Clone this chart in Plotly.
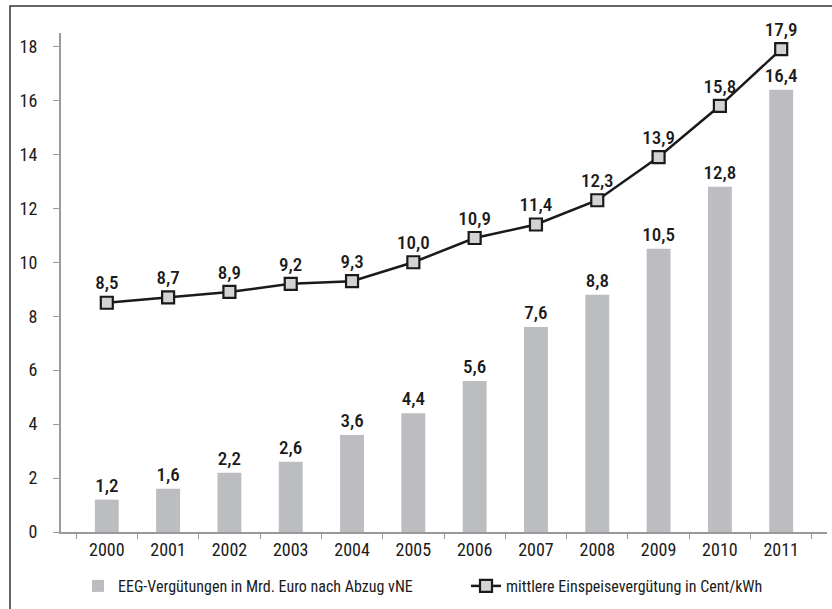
import plotly.graph_objects as go

years = ["2000", "2001", "2002", "2003", "2004", "2005",
         "2006", "2007", "2008", "2009", "2010", "2011"]
eeg_mrd_euro = [1.2, 1.6, 2.2, 2.6, 3.6, 4.4, 5.6, 7.6, 8.8, 10.5, 12.8, 16.4]
einspeise_cent = [8.5, 8.7, 8.9, 9.2, 9.3, 10.0, 10.9, 11.4, 12.3, 13.9, 15.8, 17.9]

W, H = 832, 609
L, R, T, B = 61, 5, 33, 77
pw, ph = W - L - R, H - T - B
FONT = "Roboto Condensed, Liberation Sans Narrow, sans-serif"


def px_x(x):
    # Pixel -> paper-Koordinate (x)
    return (x - L) / pw


def px_y(y):
    return (H - B - y) / ph


fig = go.Figure()

fig.add_trace(go.Bar(
    x=years, y=eeg_mrd_euro,
    name="EEG-Vergütungen in Mrd. Euro nach Abzug vNE",
    marker=dict(color="#bcbdc0", line_width=0),
    width=0.39,
    texttemplate="%{y:.1f}", textposition="outside", constraintext="none",
    textfont=dict(size=19, color="#1a1a1a", weight=500),
    cliponaxis=False,
    legend="legend",
))

fig.add_trace(go.Scatter(
    x=years, y=einspeise_cent,
    name="mittlere Einspeisevergütung in Cent/kWh",
    mode="lines+markers+text",
    line=dict(color="#1a1a1a", width=2.5),
    marker=dict(symbol="square", size=12, color="#d2d3d5",
                line=dict(color="#1a1a1a", width=2.2)),
    texttemplate="%{y:.1f}", textposition="top center",
    textfont=dict(size=19, color="#1a1a1a", weight=500),
    cliponaxis=False,
    legend="legend2",
))

# Rahmen (links und oben sichtbar, rechts/unten ausserhalb des Bildes)
fig.add_shape(
    type="rect", xref="paper", yref="paper",
    x0=px_x(10), x1=px_x(W + 20), y0=px_y(H + 20), y1=px_y(6),
    line=dict(color="#333", width=1.5), layer="below",
)

fig.update_xaxes(
    type="category", showline=True, linecolor="#9a9a9a", linewidth=2,
    ticks="outside", tickson="boundaries", ticklen=5, tickcolor="#9a9a9a",
    tickfont=dict(size=18, color="#1a1a1a"), showgrid=False,
)
fig.update_yaxes(
    range=[0, 18.5], dtick=2, showline=True, linecolor="#9a9a9a", linewidth=2,
    ticks="outside", ticklen=6, tickcolor="#9a9a9a", ticklabelstandoff=12,
    tickfont=dict(size=18, color="#1a1a1a"), showgrid=False, zeroline=False,
)

fig.update_layout(
    width=W, height=H,
    margin=dict(l=L, r=R, t=T, b=B),
    font=dict(family=FONT, color="#1a1a1a"),
    separators=",.",
    plot_bgcolor="white", paper_bgcolor="white",
    showlegend=True,
    legend=dict(x=px_x(78), xanchor="left", y=px_y(586), yanchor="middle",
                font=dict(size=16), bgcolor="rgba(0,0,0,0)"),
    legend2=dict(x=px_x(466), xanchor="left", y=px_y(586), yanchor="middle",
                 font=dict(size=16), bgcolor="rgba(0,0,0,0)"),
)

fig.write_html("out.html", config={"displayModeBar": False},
               post_script="document.body.style.margin='0';")
